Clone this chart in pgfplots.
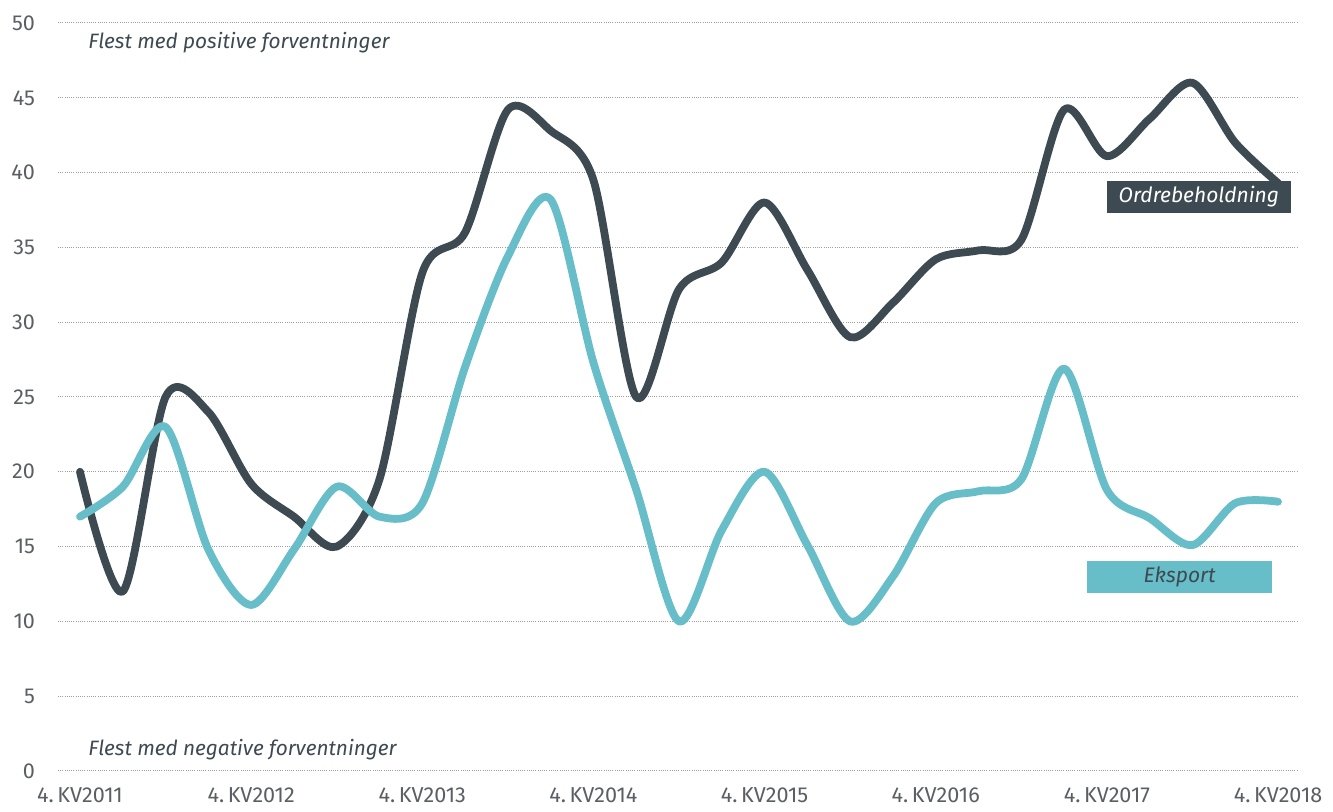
\documentclass[border=0pt]{standalone}
\usepackage{pgfplots}
\pgfplotsset{compat=1.18}
\usepackage{fontspec}
\setmainfont{Fira Sans}
\definecolor{dark}{HTML}{3D4A52}
\definecolor{teal2}{HTML}{67BDC8}
\definecolor{tickc}{HTML}{5A5F63}
\begin{document}
\begin{tikzpicture}
\begin{axis}[
 name=ax, scale only axis, width=620pt, height=374pt,
 xmin=-0.514, xmax=28.467, ymin=0, ymax=50,
 axis line style={draw=none},
 ytick={0,5,...,50},
 xtick={0,4,...,28},
 xticklabels={4.\,KV2011,4.\,KV2012,4.\,KV2013,4.\,KV2014,4.\,KV2015,4.\,KV2016,4.\,KV2017,4.\,KV2018},
 major tick length=0pt,
 ymajorgrids,
 grid style={gray!75, line width=0.5pt, dash pattern=on 0.5pt off 0.6pt},
 tick label style={font=\fontsize{10.8}{12}\selectfont, text=tickc},
 yticklabel style={xshift=-8pt},
 xticklabel style={yshift=-5pt},
 /pgf/number format/assume math mode=true,
 clip=false,
]
\addplot[dark, line width=3.9pt, smooth, tension=0.5, line cap=round, line join=round] coordinates {
(0,20) (1,12) (2,25) (3,24) (4,19.2) (5,17) (6,15) (7,19.5) (8,33.3) (9,36)
(10,44.2) (11,42.8) (12,39.5) (13,25) (14,32.2) (15,34) (16,38) (17,33.5) (18,29) (19,31.3)
(20,34.2) (21,34.8) (22,35.5) (23,44.2) (24,41.1) (25,43.6) (26,46) (27,42) (28,39.3)};
\addplot[teal2, line width=3.9pt, smooth, tension=0.5, line cap=round, line join=round] coordinates {
(0,17) (1,19) (2,23) (3,14.8) (4,11.1) (5,14.8) (6,19) (7,17) (8,17.9) (9,27)
(10,34.4) (11,38.2) (12,27.3) (13,18.8) (14,10) (15,16.1) (16,20) (17,15.1) (18,10) (19,13)
(20,17.9) (21,18.7) (22,19.5) (23,26.9) (24,18.8) (25,16.9) (26,15.1) (27,17.9) (28,18)};
\node[anchor=west, inner sep=0, text=dark, font=\itshape\fontsize{10.4}{12}\selectfont] at (axis cs:0.187,48.66) {Flest med positive forventninger};
\node[anchor=west, inner sep=0, text=dark, font=\itshape\fontsize{10.4}{12}\selectfont] at (axis cs:0.187,1.4) {Flest med negative forventninger};
\node[fill=dark, text=white, minimum width=92pt, minimum height=16pt, inner sep=0, font=\itshape\fontsize{10.5}{12}\selectfont] at (axis cs:26.15,38.4) {Ordrebeholdning};
\node[fill=teal2, text=dark, minimum width=92.5pt, minimum height=16pt, inner sep=0, font=\itshape\fontsize{10.5}{12}\selectfont] at (axis cs:25.7,12.97) {Eksport};
\end{axis}
\pgfresetboundingbox
\path ([shift={(-29pt,-20.5pt)}]ax.south west) rectangle ([shift={(17.5pt,11.5pt)}]ax.north east);
\end{tikzpicture}
\end{document}
